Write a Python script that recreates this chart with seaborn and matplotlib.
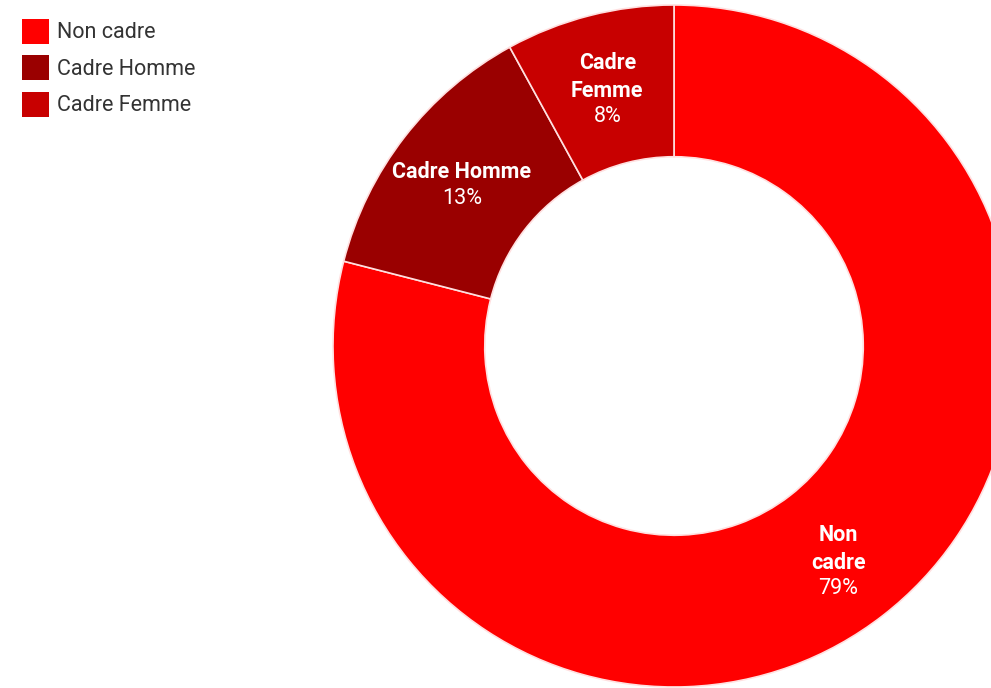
import matplotlib
matplotlib.use("Agg")
import matplotlib.pyplot as plt
import numpy as np
import seaborn as sns

sns.set_theme(style="white")
plt.rcParams['font.family'] = ['Roboto', 'DejaVu Sans']

# data
categories = ["Non cadre", "Cadre Homme", "Cadre Femme"]
label_names = ["Non\ncadre", "Cadre Homme", "Cadre\nFemme"]
shares = [79, 13, 8]
colors = ["#FF0000", "#9A0000", "#C80000"]

W, H = 991, 688
fig = plt.figure(figsize=(W / 100, H / 100), dpi=100)
ax = fig.add_axes([0, 0, 1, 1])

# pie geometry in pixels: centre and outer radius
cx, cy, R = 674, 346, 341
wedges, _ = ax.pie(
    shares, colors=colors, startangle=90, counterclock=False,
    radius=1.0, wedgeprops=dict(width=0.445, edgecolor="#FFE0E0", linewidth=1.2),
)
ax.set_xlim(-cx / R, (W - cx) / R)
ax.set_ylim(-(H - cy) / R, cy / R)
ax.set_aspect("auto")
ax.axis("off")

# labels inside the ring
line_pt = 26.5 * 0.72
shift = -4 * 0.72
for w, name, val in zip(wedges, label_names, shares):
    ang = np.deg2rad((w.theta1 + w.theta2) / 2)
    x, y = 0.787 * np.cos(ang), 0.787 * np.sin(ang)
    n = name.count("\n") + 1
    N = n + 1
    ax.annotate(name, (x, y), xytext=(0, 0.5 * line_pt + shift), textcoords="offset points",
                ha="center", va="center", color="white", fontsize=15.5,
                fontweight="bold", linespacing=1.38)
    ax.annotate(f"{val}%", (x, y), xytext=(0, -(N - 1) / 2 * line_pt + shift),
                textcoords="offset points", ha="center", va="center",
                color="white", fontsize=15.5)

leg = fig.legend(wedges, categories, loc="upper left",
                 bbox_to_anchor=(22 / W, 1 - 18.5 / H), frameon=False,
                 borderaxespad=0, borderpad=0, fontsize=15.5,
                 handlelength=1.26, handleheight=1.41, handletextpad=0.37,
                 labelspacing=0.54)
for t in leg.get_texts():
    t.set_color("#333333")
for h in leg.legend_handles:
    h.set_edgecolor("none")

fig.savefig("out.png", dpi=100)
